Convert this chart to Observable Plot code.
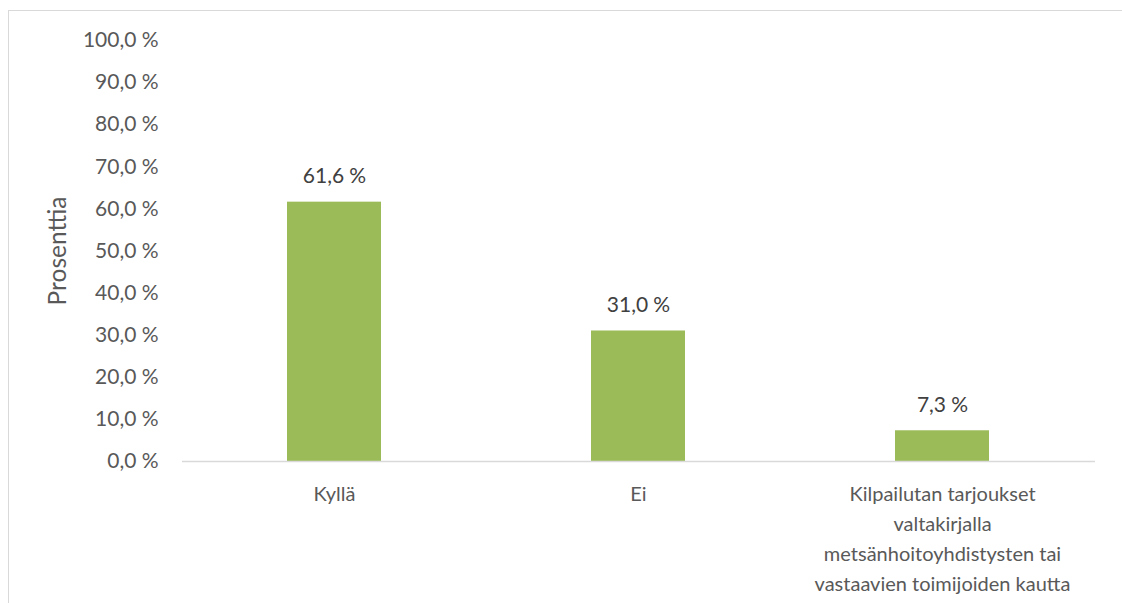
<!DOCTYPE html>
<html>
<head>
<meta charset="utf-8">
<script src="https://cdn.jsdelivr.net/npm/d3@7"></script>
<script src="https://cdn.jsdelivr.net/npm/@observablehq/plot@0.6"></script>
<style>
  html, body { margin: 0; padding: 0; background: #fff; }
  #wrap { position: relative; width: 1122px; height: 603px; overflow: hidden; }
  #frame { position: absolute; left: 8px; top: 10px; right: -2px; bottom: -2px;
           border-left: 1px solid #d9d9d9; border-top: 1px solid #d9d9d9; }
  #chart { position: absolute; left: 0; top: 0; }
</style>
</head>
<body>
<div id="wrap"><div id="frame"></div><div id="chart"></div></div>
<script>
// Vastaukset: osuus vastaajista (%)
const categories = [
  "Kyllä",
  "Ei",
  "Kilpailutan tarjoukset\nvaltakirjalla\nmetsänhoitoyhdistysten tai\nvastaavien toimijoiden kautta"
];
const values = [61.6, 31.0, 7.3];
const yTicks = [0, 10, 20, 30, 40, 50, 60, 70, 80, 90, 100];
const yTitle = "Prosenttia";

const data = categories.map((c, i) => ({category: c, value: values[i]}));
const pct = v => v.toFixed(1).replace(".", ",") + "\u202f%";
const font = "Lato, 'Open Sans', sans-serif";

const chart = Plot.plot({
  width: 1122,
  height: 603,
  marginLeft: 182,
  marginRight: 27,
  marginTop: 40,
  marginBottom: 142,
  style: {fontFamily: font, fontSize: "20px", color: "#595959", background: "transparent"},
  x: {domain: categories, paddingInner: 0.69, paddingOuter: 0.345, axis: null},
  y: {domain: [0, 100], axis: null},
  marks: [
    Plot.axisY({ticks: yTicks, tickFormat: pct, tickSize: 0, tickPadding: 24,
                fontSize: 21, fill: "#595959", label: null}),
    Plot.barY(data, {x: "category", y: "value", fill: "#9bbb59"}),
    Plot.ruleY([0], {stroke: "#d9d9d9", strokeWidth: 1.3}),
    Plot.text(data, {x: "category", y: "value", text: d => pct(d.value), dy: -26,
                     fill: "#404040", fontSize: 21}),
    Plot.text(data, {x: "category", y: 0, text: "category", dy: 18, lineAnchor: "top",
                     lineHeight: 1.5, fill: "#595959", fontSize: 20}),
    Plot.text([yTitle], {frameAnchor: "left", dx: -124, rotate: -90, text: d => d,
                         textAnchor: "middle", fill: "#595959", fontSize: 24.5})
  ]
});
document.getElementById("chart").append(chart);
</script>
</body>
</html>
